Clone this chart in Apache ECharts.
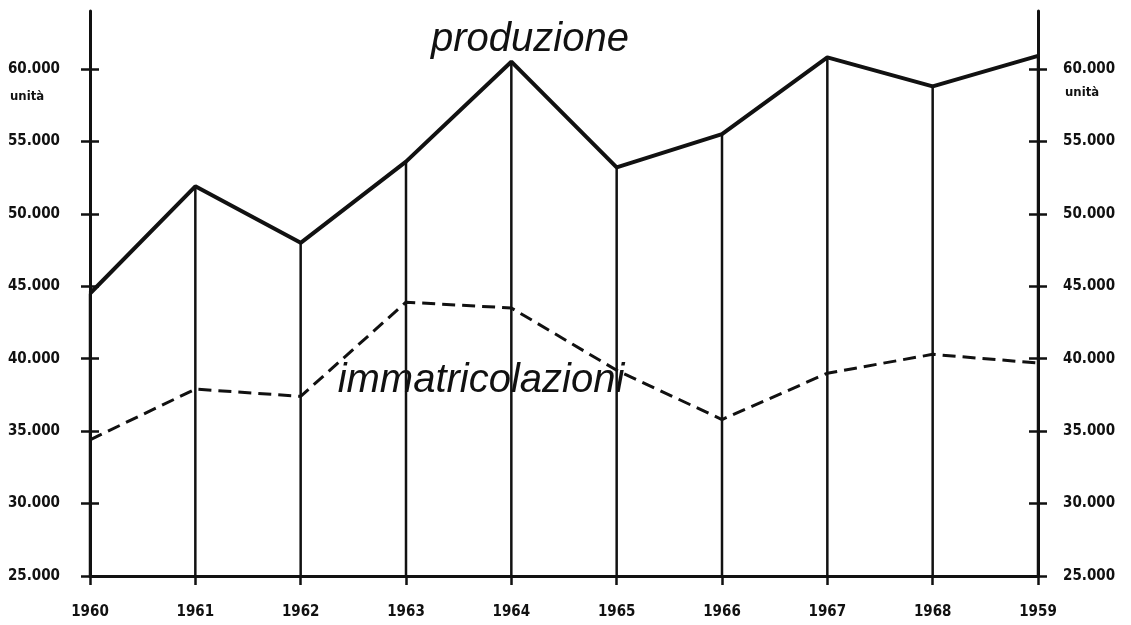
<!DOCTYPE html>
<html><head><meta charset="utf-8">
<script src="https://cdn.jsdelivr.net/npm/echarts@6/dist/echarts.min.js"></script>
<style>html,body{margin:0;padding:0;background:#fff}#c{width:1131px;height:625px}</style>
</head><body><div id="c"></div>
<script>
const years = ['1960','1961','1962','1963','1964','1965','1966','1967','1968','1959'];
const produzione = [44500, 51900, 48000, 53600, 60500, 53200, 55500, 60800, 58800, 60900];
const immatricolazioni = [34400, 37900, 37400, 43900, 43500, 39200, 35800, 39000, 40300, 39700];
const yTicks = [25000, 30000, 35000, 40000, 45000, 50000, 55000, 60000];
const yMin = 25000, yMax = 64000;

const INK = '#111';
const NUMFONT = '"DejaVu Sans Condensed", "Liberation Sans Narrow", sans-serif';
const fmt = v => (v / 1000) + '.000';

function yAx(pos, inside, main, margin) {
  return {
    type: 'value', min: yMin, max: yMax, position: pos,
    axisLine: { show: main, lineStyle: { color: INK, width: 3 } },
    axisTick: { show: true, inside: inside, length: 9, customValues: yTicks, lineStyle: { color: INK, width: 2.5 } },
    splitLine: { show: false },
    axisLabel: { show: main, customValues: yTicks, formatter: fmt, margin: margin,
      fontFamily: NUMFONT, fontWeight: 'bold', fontSize: 15, color: INK }
  };
}

const chart = echarts.init(document.getElementById('c'));
chart.setOption({
  backgroundColor: '#fff',
  animation: false,
  grid: { left: 90, right: 93, top: 11, bottom: 49 },
  xAxis: {
    type: 'category', data: years, boundaryGap: false,
    axisLine: { lineStyle: { color: INK, width: 3 } },
    axisTick: { length: 9, lineStyle: { color: INK, width: 2.5 } },
    axisLabel: { margin: 29, fontFamily: NUMFONT, fontWeight: 'bold', fontSize: 15, color: INK },
    splitLine: { show: false }
  },
  yAxis: [
    yAx('left', false, true, 30),
    yAx('left', true, false, 30),
    yAx('right', false, true, 25),
    yAx('right', true, false, 25)
  ],
  series: [
    {
      type: 'custom', z: 1,
      data: produzione.map((v, i) => [i, v]),
      renderItem: (params, api) => {
        const top = api.coord([api.value(0), api.value(1)]);
        const bot = api.coord([api.value(0), yMin]);
        return { type: 'line', shape: { x1: top[0], y1: top[1], x2: bot[0], y2: bot[1] },
          style: { stroke: INK, lineWidth: 2.5 } };
      }
    },
    {
      name: 'produzione', type: 'line', data: produzione, symbol: 'none', z: 3,
      lineStyle: { color: INK, width: 4 }
    },
    {
      name: 'immatricolazioni', type: 'line', data: immatricolazioni, symbol: 'none', z: 3,
      lineStyle: { color: INK, width: 3, type: [13, 7] }
    }
  ],
  graphic: [
    { type: 'text', x: 530, y: 40, style: { text: 'produzione', font: 'italic 40px "Liberation Sans", sans-serif', fill: INK, textAlign: 'center', textVerticalAlign: 'middle' } },
    { type: 'text', x: 481, y: 381, style: { text: 'immatricolazioni', font: 'italic 40px "Liberation Sans", sans-serif', fill: INK, textAlign: 'center', textVerticalAlign: 'middle' } },
    { type: 'text', x: 10, y: 97, style: { text: 'unità', font: 'bold 13px ' + NUMFONT, fill: INK, textAlign: 'left', textVerticalAlign: 'middle' } },
    { type: 'text', x: 1065, y: 93, style: { text: 'unità', font: 'bold 13px ' + NUMFONT, fill: INK, textAlign: 'left', textVerticalAlign: 'middle' } }
  ]
});
</script></body></html>
